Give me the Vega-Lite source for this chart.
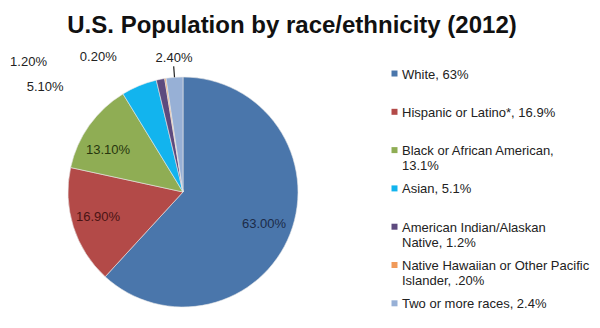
{
  "$schema": "https://vega.github.io/schema/vega-lite/v6.json",
  "width": 230,
  "height": 230,
  "autosize": "none",
  "padding": {"left": 68, "top": 77, "right": 302, "bottom": 21},
  "background": "white",
  "title": {
    "text": "U.S. Population by race/ethnicity (2012)",
    "font": "Liberation Sans",
    "fontSize": 24,
    "fontWeight": "bold",
    "color": "#111",
    "anchor": "middle",
    "dx": 109,
    "offset": 11
  },
  "config": {"view": {"stroke": null}},
  "data": {
    "values": [
      {"group": "White, 63%", "pct": 0.63, "rank": 1},
      {"group": "Hispanic or Latino*, 16.9%", "pct": 0.169, "rank": 2},
      {"group": "Black or African American,|13.1%", "pct": 0.131, "rank": 3},
      {"group": "Asian, 5.1%", "pct": 0.051, "rank": 4},
      {"group": "American Indian/Alaskan|Native, 1.2%", "pct": 0.012, "rank": 5},
      {"group": "Native Hawaiian or Other Pacific|Islander, .20%", "pct": 0.002, "rank": 6},
      {"group": "Two or more races, 2.4%", "pct": 0.024, "rank": 7}
    ]
  },
  "encoding": {
    "theta": {"field": "pct", "type": "quantitative", "stack": true},
    "order": {"field": "rank", "type": "quantitative"}
  },
  "layer": [
    {
      "mark": {"type": "arc", "outerRadius": 115, "stroke": "#e8e8e8", "strokeWidth": 0.6},
      "encoding": {
        "color": {
          "field": "group",
          "type": "nominal",
          "sort": null,
          "scale": {
            "domain": ["White, 63%", "Hispanic or Latino*, 16.9%", "Black or African American,|13.1%", "Asian, 5.1%", "American Indian/Alaskan|Native, 1.2%", "Native Hawaiian or Other Pacific|Islander, .20%", "Two or more races, 2.4%"],
            "range": ["#4a76ab", "#b34a48", "#8fad54", "#12b4ee", "#5d4a7e", "#f09a5a", "#97b0d6"]
          },
          "legend": {
            "title": null,
            "orient": "none",
            "legendX": 320,
            "legendY": -15,
            "symbolType": "M-1,0.67H1V2.67H-1Z",
            "symbolSize": 36,
            "symbolStrokeWidth": 0,
            "labelFont": "Liberation Sans",
            "labelFontSize": 13,
            "labelColor": "#222",
            "labelBaseline": "top",
            "labelLineHeight": 17,
            "labelLimit": 220,
            "labelOffset": 1,
            "labelExpr": "split(datum.label, '|')",
            "gridAlign": "all",
            "rowPadding": 3.3
          }
        }
      }
    },
    {
      "mark": {"type": "arc", "innerRadius": 115, "outerRadius": 126, "padAngle": 0.3, "fillOpacity": 0, "stroke": "#222", "strokeWidth": 1.2},
      "encoding": {
        "strokeOpacity": {"condition": {"test": "datum.rank == 7", "value": 1}, "value": 0}
      }
    },
    {
      "mark": {"type": "text", "radius": 87, "font": "Liberation Sans", "fontSize": 13, "color": "#1c2b48"},
      "encoding": {"text": {"condition": {"test": "datum.rank == 1", "field": "pct", "type": "quantitative", "format": ".2%"}, "value": ""}}
    },
    {
      "mark": {"type": "text", "radius": 87, "font": "Liberation Sans", "fontSize": 13, "color": "#4a1414", "dx": -2, "dy": -1},
      "encoding": {"text": {"condition": {"test": "datum.rank == 2", "field": "pct", "type": "quantitative", "format": ".2%"}, "value": ""}}
    },
    {
      "mark": {"type": "text", "radius": 87, "font": "Liberation Sans", "fontSize": 13, "color": "#27360e", "dx": -4, "dy": 8},
      "encoding": {"text": {"condition": {"test": "datum.rank == 3", "field": "pct", "type": "quantitative", "format": ".2%"}, "value": ""}}
    },
    {
      "mark": {"type": "text", "radius": 135, "font": "Liberation Sans", "fontSize": 13, "color": "#222", "dx": 1, "dy": 1},
      "encoding": {"text": {"condition": {"test": "datum.rank == 7", "field": "pct", "type": "quantitative", "format": ".2%"}, "value": ""}}
    },
    {
      "mark": {"type": "text", "radius": 135, "font": "Liberation Sans", "fontSize": 13, "color": "#222", "dx": -64, "dy": -2},
      "encoding": {"text": {"condition": {"test": "datum.rank == 6", "field": "pct", "type": "quantitative", "format": ".2%"}, "value": ""}}
    },
    {
      "mark": {"type": "text", "radius": 135, "font": "Liberation Sans", "fontSize": 13, "color": "#222", "dx": -128, "dy": 2},
      "encoding": {"text": {"condition": {"test": "datum.rank == 5", "field": "pct", "type": "quantitative", "format": ".2%"}, "value": ""}}
    },
    {
      "mark": {"type": "text", "radius": 120, "font": "Liberation Sans", "fontSize": 13, "color": "#222", "dx": -92, "dy": 6},
      "encoding": {"text": {"condition": {"test": "datum.rank == 4", "field": "pct", "type": "quantitative", "format": ".2%"}, "value": ""}}
    }
  ]
}
